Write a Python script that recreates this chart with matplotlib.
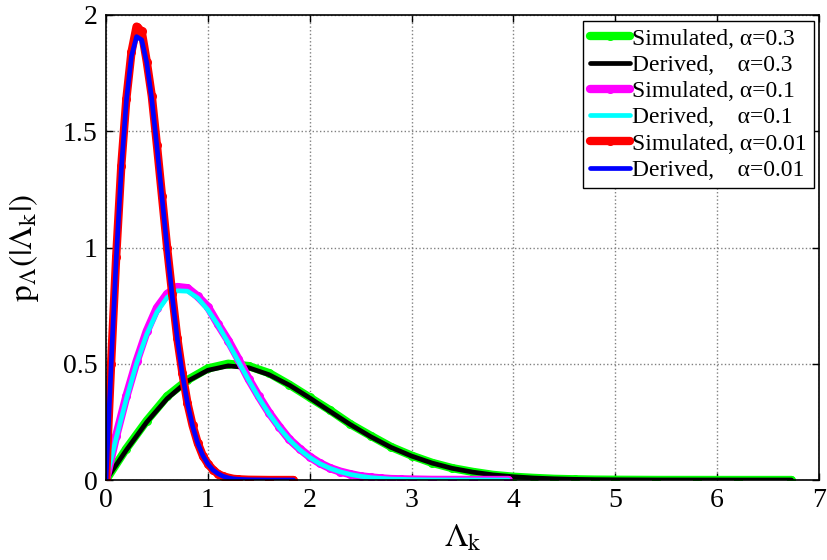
import matplotlib
matplotlib.use("Agg")
import matplotlib.pyplot as plt

plt.rcParams["font.family"] = ["Liberation Serif", "DejaVu Serif"]
plt.rcParams["mathtext.fontset"] = "stix"

# alpha = 0.01
x_a001 = [0, 0.05, 0.1, 0.15, 0.2, 0.25, 0.3, 0.35, 0.4, 0.45, 0.5, 0.55, 0.6,
          0.65, 0.7, 0.75, 0.8, 0.85, 0.9, 0.95, 1.0, 1.05, 1.1, 1.15, 1.2,
          1.25, 1.3, 1.4, 1.6, 1.84]
der_a001 = [0, 0.491, 0.947, 1.334, 1.631, 1.823, 1.907, 1.893, 1.795, 1.635,
            1.434, 1.215, 0.996, 0.790, 0.608, 0.454, 0.330, 0.232, 0.159,
            0.106, 0.069, 0.043, 0.027, 0.016, 0.009, 0.005, 0.003, 0.001,
            0.0, 0.0]
sim_a001 = [0, 0.50, 0.96, 1.35, 1.64, 1.84, 1.95, 1.93, 1.80, 1.65, 1.44,
            1.22, 1.00, 0.80, 0.61, 0.46, 0.33, 0.235, 0.16, 0.105, 0.07,
            0.044, 0.026, 0.016, 0.01, 0.005, 0.003, 0.001, 0.0, 0.0]

# alpha = 0.1
x_a01 = [0, 0.1, 0.2, 0.3, 0.4, 0.5, 0.6, 0.7, 0.8, 0.9, 1.0, 1.1, 1.2, 1.3,
         1.4, 1.5, 1.6, 1.7, 1.8, 1.9, 2.0, 2.1, 2.2, 2.3, 2.4, 2.5, 2.6, 2.7,
         2.8, 2.9, 3.0, 3.2, 3.4, 3.6, 3.95]
der_a01 = [0, 0.180, 0.349, 0.501, 0.627, 0.722, 0.785, 0.814, 0.812, 0.783,
           0.732, 0.666, 0.590, 0.510, 0.430, 0.354, 0.285, 0.225, 0.173,
           0.131, 0.097, 0.070, 0.050, 0.035, 0.024, 0.016, 0.010, 0.007,
           0.004, 0.003, 0.0015, 0.0005, 0.0002, 0.0001, 0.0]
sim_a01 = [0, 0.19, 0.36, 0.51, 0.64, 0.74, 0.80, 0.83, 0.825, 0.79, 0.745,
           0.67, 0.60, 0.52, 0.435, 0.36, 0.29, 0.23, 0.175, 0.135, 0.10,
           0.072, 0.051, 0.036, 0.025, 0.016, 0.011, 0.007, 0.004, 0.003,
           0.002, 0.0005, 0.0002, 0.0001, 0.0]

# alpha = 0.3
x_a03 = [0, 0.2, 0.4, 0.6, 0.8, 1.0, 1.2, 1.4, 1.6, 1.8, 2.0, 2.2, 2.4, 2.6,
         2.8, 3.0, 3.2, 3.4, 3.6, 3.8, 4.0, 4.2, 4.4, 4.6, 4.8, 5.0, 5.4, 5.8,
         6.2, 6.73]
der_a03 = [0, 0.129, 0.249, 0.350, 0.425, 0.472, 0.491, 0.483, 0.453, 0.408,
           0.353, 0.295, 0.238, 0.186, 0.140, 0.103, 0.073, 0.050, 0.034,
           0.022, 0.014, 0.0085, 0.0051, 0.0029, 0.0016, 0.0009, 0.0002,
           0.0001, 0.0, 0.0]
sim_a03 = [0, 0.135, 0.255, 0.36, 0.43, 0.48, 0.50, 0.49, 0.46, 0.41, 0.355,
           0.30, 0.24, 0.19, 0.142, 0.105, 0.074, 0.051, 0.035, 0.022, 0.014,
           0.009, 0.005, 0.003, 0.0016, 0.001, 0.0002, 0.0001, 0.0, 0.0]

xticks = [0, 1, 2, 3, 4, 5, 6, 7]
yticks = [0, 0.5, 1, 1.5, 2]
ytick_labels = ["0", "0.5", "1", "1.5", "2"]

fig = plt.figure(figsize=(8.28, 5.6), dpi=100)
ax = fig.add_axes([106 / 828, 80 / 560, 713 / 828, 465 / 560])

sim_kw = dict(linestyle="-", marker=".", markersize=11, linewidth=6,
              solid_capstyle="round", solid_joinstyle="round")
der_kw = dict(linestyle="-", linewidth=3.4, solid_capstyle="round")

ax.plot(x_a03, sim_a03, color=(0, 1, 0), label="Simulated, α=0.3", **sim_kw)
ax.plot(x_a03, der_a03, color="k", label="Derived,    α=0.3", **der_kw)
ax.plot(x_a01, sim_a01, color=(1, 0, 1), label="Simulated, α=0.1", **sim_kw)
ax.plot(x_a01, der_a01, color=(0, 1, 1), label="Derived,    α=0.1", **der_kw)
ax.plot(x_a001, sim_a001, color=(1, 0, 0), label="Simulated, α=0.01", **sim_kw)
ax.plot(x_a001, der_a001, color=(0, 0, 1), label="Derived,    α=0.01", **der_kw)

ax.set_xlim(0, 7)
ax.set_ylim(0, 2)
ax.set_xticks(xticks)
ax.set_yticks(yticks)
ax.set_yticklabels(ytick_labels)
ax.tick_params(direction="in", length=5, width=1, labelsize=20,
               top=True, right=True, pad=6)
ax.grid(True, linestyle=":", color="#808080", linewidth=1)
for sp in ax.spines.values():
    sp.set_linewidth(1.2)

ax.set_xlabel(r"$\Lambda_\mathrm{k}$", fontsize=24, labelpad=7)
ax.set_ylabel(r"$\mathrm{p}_\Lambda(|\Lambda_\mathrm{k}|)$", fontsize=24, labelpad=16)

leg = ax.legend(loc="upper right", bbox_to_anchor=(0.993, 0.987),
                borderaxespad=0, fontsize=17, numpoints=1, handlelength=1.7,
                handletextpad=0.1, labelspacing=0.2, borderpad=0.3,
                fancybox=False, framealpha=1)
leg.get_frame().set_edgecolor("k")
leg.get_frame().set_linewidth(1.0)

fig.savefig("out.png", dpi=100)
